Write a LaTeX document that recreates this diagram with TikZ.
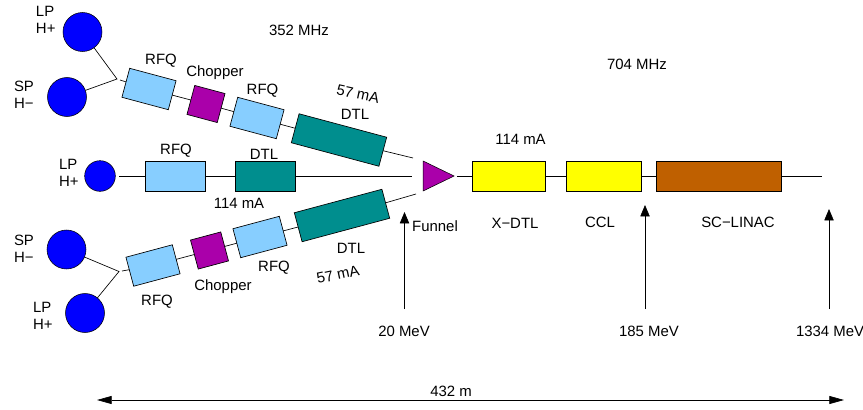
\documentclass[tikz,border=0pt]{standalone}
\usepackage{fontspec}
\setmainfont{Liberation Sans}
\usetikzlibrary{
  arrows.meta,
  shapes.geometric,
  positioning
}
\definecolor{srcBlue}{HTML}{0000FF}
\definecolor{rfqBlue}{HTML}{87CEFF}
\definecolor{chopPurple}{HTML}{AA00AA}
\definecolor{dtlTeal}{HTML}{008E8E}
\definecolor{ccYellow}{HTML}{FFFF00}
\definecolor{scBrown}{HTML}{BF6000}
\tikzset{
  txt/.style={font=\fontsize{11.2}{12}\selectfont, inner sep=0pt, outer sep=0pt},
  srctxt/.style={txt, align=left, anchor=west, font=\fontsize{11.2}{12.9}\selectfont},
  elem/.style={draw=black, line width=0.5pt, inner sep=0pt, outer sep=0pt, minimum height=22.5pt},
  source/.style={draw=black, line width=0.4pt, circle, fill=srcBlue, inner sep=0pt, outer sep=0pt, minimum size=29.25pt},
  smallsource/.style={source, minimum size=23pt},
  rfq/.style={elem, fill=rfqBlue, minimum width=36pt},
  chopper/.style={elem, fill=chopPurple, minimum width=23.5pt},
  dtl/.style={elem, fill=dtlTeal, minimum width=68pt},
  xdtl/.style={elem, fill=ccYellow},
  scl/.style={elem, fill=scBrown},
  funnel/.style={draw=black, line width=0.4pt, fill=chopPurple, isosceles triangle, isosceles triangle stretches,
    inner sep=0pt, outer sep=0pt, minimum height=23.25pt, minimum width=22.5pt},
  beam/.style={line width=0.5pt, black},
  energy/.style={-{Triangle[length=8.5pt, width=7pt]}, line width=0.5pt, black},
  lengthline/.style={{Triangle[length=11pt, width=6pt]}-{Triangle[length=11pt, width=6pt]}, line width=0.5pt, black}
}
\begin{document}
\begin{tikzpicture}[x=0.75pt, y=-0.75pt]
  \useasboundingbox (0,0) rectangle (863,410);
  % sources
  \node[source] (lpa) at (82.5,32) {};
  \node[source] (spa) at (67,97) {};
  \node[smallsource] (lpm) at (100,176) {};
  \node[source] (spb) at (66.5,249.5) {};
  \node[source] (lpb) at (85,313) {};
  \node[srctxt] (lpatxt) at (36,19.5) {LP\\H+};
  \node[srctxt] (spatxt) at (14,95) {SP\\H−};
  \node[srctxt] (lpmtxt) at (59,173) {LP\\H+};
  \node[srctxt] (spbtxt) at (14,248.5) {SP\\H−};
  \node[srctxt] (lpbtxt) at (33,316) {LP\\H+};
  % upper branch
  \coordinate (ja) at (117,79);
  \coordinate (sa) at (120,80);
  \coordinate (ea) at (413,158);
  \node[rfq, rotate=-15] (rfqa) at (149,89) {};
  \node[chopper, rotate=-15] (chopa) at (206,104) {};
  \node[rfq, rotate=-15] (rfqc) at (257,118) {};
  \node[dtl, rotate=-15] (dtla) at (339,140) {};
  % middle branch
  \coordinate (em) at (412,176);
  \node[rfq, minimum width=45pt] (rfqm) at (175,176) {};
  \node[dtl, minimum width=45.5pt, right=22.5pt of rfqm] (dtlm) {};
  % lower branch
  \coordinate (jb) at (119,271.5);
  \coordinate (sb) at (122,271);
  \coordinate (eb) at (416,194);
  \node[rfq, rotate=15] (rfqb) at (153,265.5) {};
  \node[chopper, rotate=15] (chopb) at (209.5,250.5) {};
  \node[rfq, rotate=15] (rfqd) at (260,237) {};
  \node[dtl, rotate=15] (dtlb) at (342,215.5) {};
  % main linac
  \node[funnel] (fun) at (432.5,176) {};
  \node[xdtl, minimum width=54.75pt] (xd) at (508.5,176) {};
  \node[xdtl, minimum width=56.6pt, right=15.75pt of xd] (ccl) {};
  \node[scl, minimum width=93.75pt, right=10.9pt of ccl] (sc) {};
  \coordinate (send) at (822,176);
  % connectors
  \draw[beam] (lpa) -- (ja) -- (spa);
  \draw[beam] (spb) -- (jb) -- (lpb);
  \foreach \a/\b in {sa/rfqa,rfqa/chopa,chopa/rfqc,rfqc/dtla,dtla/ea,
                     sb/rfqb,rfqb/chopb,chopb/rfqd,rfqd/dtlb,dtlb/eb,
                     rfqm/dtlm,dtlm/em,xd/ccl,ccl/sc,sc/send}{
    \draw[beam] (\a) -- (\b);
  }
  \draw[beam, shorten <=3pt] (lpm) -- (rfqm);
  \draw[beam, shorten <=2pt] (fun.east) -- (xd);
  % energies
  \coordinate (ea1) at (404.5,309);
  \coordinate (ea2) at (404.5,212);
  \coordinate (eb1) at (645,309);
  \coordinate (eb2) at (645,205);
  \coordinate (ec1) at (829,309);
  \coordinate (ec2) at (829,209);
  \draw[energy] (ea1) -- (ea2);
  \draw[energy] (eb1) -- (eb2);
  \draw[energy] (ec1) -- (ec2);
  \coordinate (la) at (97,400);
  \coordinate (lb) at (844,400);
  \draw[lengthline] (la) -- (lb);
  % labels
  \node[txt] (mhza) at (299,30) {352 MHz};
  \node[txt] (mhzb) at (637,64) {704 MHz};
  \node[txt] (l1) at (161,61) {RFQ};
  \node[txt] (l2) at (215,73) {Chopper};
  \node[txt] (l3) at (262.5,90.5) {RFQ};
  \node[txt, rotate=-12] (l4) at (358,94) {57 mA};
  \node[txt] (l5) at (355,114) {DTL};
  \node[txt] (l6) at (176,151) {RFQ};
  \node[txt] (l7) at (264,154) {DTL};
  \node[txt] (l8) at (239,203) {114 mA};
  \node[txt] (l9) at (520.5,139) {114 mA};
  \node[txt] (l10) at (435,226) {Funnel};
  \node[txt] (l11) at (515,223) {X−DTL};
  \node[txt] (l12) at (600,222) {CCL};
  \node[txt] (l13) at (738,222) {SC−LINAC};
  \node[txt] (l14) at (351,248.5) {DTL};
  \node[txt, rotate=12] (l15) at (338,274.5) {57 mA};
  \node[txt] (l16) at (274,268) {RFQ};
  \node[txt] (l17) at (223,287) {Chopper};
  \node[txt] (l18) at (157,302) {RFQ};
  \node[txt] (l19) at (404,331) {20 MeV};
  \node[txt] (l20) at (649,331) {185 MeV};
  \node[txt, anchor=west] (l21) at (796,331) {1334 MeV};
  \node[txt] (l22) at (451,391.5) {432 m};
\end{tikzpicture}
\end{document}
